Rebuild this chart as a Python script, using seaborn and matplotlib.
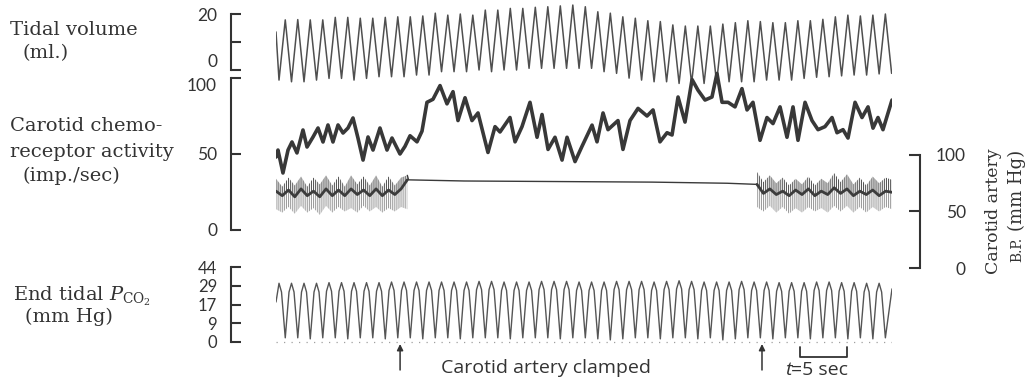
import numpy as np
import matplotlib
matplotlib.use("Agg")
import matplotlib.pyplot as plt
import matplotlib.transforms as mtransforms
import seaborn as sns

# ---------------- recorded values ----------------
BREATH = 1.33          # s per respiratory cycle
FIRST_TROUGH = 0.32    # s, first inspiratory trough of the tidal trace
T_END = 65.53          # s, end of record

# Tidal volume (ml): starting value, then alternating trough / peak per breath
tidal_start = 13.6
tidal_troughs = [-3.6, -4.2, -4.2, -3.6, -3.0, -3.0, -3.6, -3.0, -2.4, -2.4,
                 -2.4, -1.8, -1.8, -0.6, -0.6, -0.6, 0.0, -0.6, 0.0, 0.0,
                 0.6, 0.6, 0.6, 0.6, 0.6, 0.6, -0.6, -1.2, -2.9, -3.6,
                 -4.2, -4.2, -4.8, -4.8, -4.8, -4.5, -4.2, -4.2, -4.2, -3.6,
                 -3.6, -3.6, -3.0, -2.6, -2.4, -2.1, -1.8, -1.8, -1.4, -1.2]
tidal_peaks = [17.9, 18.0, 17.9, 17.9, 18.8, 18.8, 18.5, 18.5, 18.8, 19.0,
               19.0, 19.3, 20.3, 19.6, 20.0, 19.6, 21.4, 21.4, 22.0, 22.0,
               22.4, 22.6, 22.9, 23.2, 22.6, 20.8, 20.3, 19.0, 18.5, 17.6,
               17.3, 16.1, 15.7, 15.7, 15.7, 16.4, 16.9, 17.6, 17.3, 16.9,
               16.9, 17.6, 17.6, 18.1, 19.0, 19.6, 19.3, 19.6, 20.0]

# Carotid chemoreceptor discharge (imp./sec)
chemo_t = [0.00, 0.21, 0.74, 1.28, 1.70, 2.23, 2.87, 3.30, 3.94, 4.47,
           5.00, 5.53, 6.06, 6.60, 7.13, 7.66, 8.19, 8.72, 9.26, 9.79,
           10.32, 11.06, 11.81, 12.34, 13.19, 13.72, 14.26, 15.00, 15.53, 16.06,
           16.70, 17.45, 18.19, 18.83, 19.36, 20.11, 20.85, 21.49, 22.55, 23.30,
           23.83, 24.89, 25.43, 26.17, 27.02, 27.77, 28.30, 28.94, 29.68, 30.43,
           30.96, 31.81, 32.55, 33.62, 34.15, 34.79, 35.32, 36.38, 36.91, 37.66,
           38.51, 39.47, 40.11, 40.85, 41.60, 42.13, 42.77, 43.51, 44.26, 44.89,
           45.64, 46.38, 46.91, 47.45, 48.09, 48.83, 49.57, 50.11, 50.74, 51.49,
           52.23, 52.87, 53.62, 54.36, 55.00, 55.53, 56.28, 57.02, 57.66, 58.40,
           59.15, 59.68, 60.32, 60.85, 61.60, 62.34, 62.98, 63.51, 64.04, 64.57,
           65.11, 65.53]
chemo_rate = [48, 52.6, 37.5, 52.6, 57.9, 50.7, 65.8, 54.6, 61.2, 67.1,
              57.9, 69.1, 57.9, 69.1, 63.8, 67.1, 73.7, 60.5, 46, 61.2,
              52.6, 67.1, 52.6, 60.5, 50, 55, 62, 58, 65, 84,
              86, 95, 83, 91, 72, 87, 72, 77, 51, 68,
              64.5, 74, 58, 68, 84, 61, 76, 53, 61, 46,
              61, 45, 55, 69, 58, 77, 66, 72, 53, 72,
              80, 75, 79, 58, 64, 62.5, 87.5, 71, 99, 92,
              85.5, 87.5, 103, 84, 84, 81, 93, 79, 84, 59,
              74, 70, 81, 61, 81, 59, 84, 72, 66, 68,
              74, 64, 66, 60.5, 84, 74, 81, 67, 74, 66,
              77, 85.5]

# Carotid artery blood pressure (mm Hg): pulsatile before / after the clamp
bp_before = (0.0, 13.97)
bp_after = (51.17, 65.53)
sys_before = [79, 72, 80, 73, 81, 72, 80, 74, 82, 73, 81, 72, 82, 74, 81, 73, 82, 72, 81, 73, 80, 82]
dia_before = [52, 49, 54, 48, 55, 49, 53, 47, 55, 49, 54, 50, 53, 49, 55, 50, 54, 49, 53, 50, 54, 52]
mean_before = [68, 64, 69, 63, 70, 64, 68, 63, 70, 64, 69, 64, 70, 65, 69, 64, 70, 64, 69, 65, 70, 78]
sys_after = [85, 76, 82, 75, 80, 73, 79, 74, 81, 73, 79, 75, 84, 76, 83, 74, 80, 73, 81, 75, 80, 78]
dia_after = [54, 50, 55, 49, 54, 48, 53, 49, 54, 50, 53, 49, 55, 50, 55, 49, 54, 49, 54, 50, 54, 52]
mean_after = [74, 66, 70, 65, 68, 64, 69, 65, 70, 64, 68, 65, 71, 66, 70, 64, 68, 65, 69, 64, 68, 67]
clamp_t = [13.97, 14.10, 20.0, 30.0, 40.0, 48.0, 51.17]
clamp_bp = [82, 78, 77, 76.5, 76, 75, 74]

# End-tidal CO2 (mm Hg): per breath the end-tidal peak, the level on the
# shoulders either side of it, and the inspired trough
pco2_start = 18.6
pco2_end = 27.0
pco2_peaks = [31, 31, 31, 31, 31.5, 31.5, 31.5, 31.5, 31.5, 32,
              32, 32, 32, 32, 32, 32, 32.5, 32.5, 32, 32,
              32, 32.5, 32.5, 32.5, 32, 32, 32, 32.5, 32.5, 32.5,
              32, 32.5, 33, 32.5, 32, 32, 32, 32.5, 32, 32,
              31.5, 31.5, 31.5, 32, 32, 31.5, 31.5, 31, 31]
pco2_shoulders = [25, 25, 25, 25, 25.5, 25.5, 25.5, 25.5, 25.5, 26,
                  26, 26, 26, 26, 26, 26, 26.5, 26.5, 26, 26,
                  26, 26.5, 26.5, 26.5, 26, 26, 26, 26.5, 26.5, 26.5,
                  26, 26.5, 27, 26.5, 26, 26, 26, 26.5, 26, 26,
                  25.5, 25.5, 25.5, 26, 26, 25.5, 25.5, 25, 25]
pco2_troughs = [2, 2, 1.5, 2, 2, 1.5, 2, 2, 1.5, 2,
                2, 1.5, 2, 2, 1.5, 2, 2, 2, 1.5, 2,
                2, 2, 1.5, 2, 2, 1.5, 1, 1.5, 2, 2,
                1.5, 2, 2, 1.5, 2, 1, 1.5, 2, 2, 1.5,
                2, 2, 1.5, 2, 2, 1.5, 2, 1.5, 2]
pco2_cal = [0, 9, 17, 29, 44]

clamp_marks = [13.2, 51.7]       # s, clamp applied / released
scale_start, scale_len = 55.7, 5  # time calibration bar (s)

# ---------------- style ----------------
sns.set_theme(style="white")
plt.rcParams["font.family"] = ["Lato", "DejaVu Sans"]
plt.rcParams["mathtext.fontset"] = "dejavuserif"
plt.rcParams["hatch.linewidth"] = 0.75

INK = "#333333"
TRACE = "#4f4f4f"
SERIF = "DejaVu Serif"
SANS = "Open Sans"
W, H = 1034, 381
fig = plt.figure(figsize=(W / 100, H / 100), dpi=100)
fig.patch.set_facecolor("white")


def fy(ypx):
    return 1 - ypx / H


def px_axes(x0, y_top, x1, y_bot):
    ax = fig.add_axes([x0 / W, fy(y_bot), (x1 - x0) / W, (y_bot - y_top) / H])
    ax.set_facecolor("none")
    for s in ax.spines.values():
        s.set_visible(False)
    ax.set_xlim(0, T_END)
    ax.set_xticks([])
    ax.set_xlabel("")
    ax.set_ylabel("")
    return ax


def left_scale(ax, lo, hi, ticks, labels, size=12.5):
    sp = ax.spines["left"]
    sp.set_visible(True)
    sp.set_position(("outward", 45 * 0.72))
    sp.set_bounds(lo, hi)
    sp.set_color(INK)
    sp.set_linewidth(1.5)
    ax.set_yticks(ticks)
    ax.set_yticklabels(labels)
    ax.tick_params(axis="y", left=True, direction="in", length=7.5, width=1.5,
                   pad=10, labelsize=size, colors=INK)


# ---- tidal volume ----
ax_tv = px_axes(276, 0, 892, 90)
tv_t, tv_v = [0.0], [tidal_start]
for i, tr in enumerate(tidal_troughs):
    tv_t.append(FIRST_TROUGH + i * BREATH)
    tv_v.append(tr)
    if i < len(tidal_peaks):
        tv_t.append(FIRST_TROUGH + (i + 0.5) * BREATH)
        tv_v.append(tidal_peaks[i])
sns.lineplot(x=tv_t, y=tv_v, ax=ax_tv, color=TRACE, linewidth=1.1, estimator=None)
ax_tv.set_ylim(-7.14, 25)
left_scale(ax_tv, 0, 20, [0, 10, 20], ["0", "", "20"])
ax_tv.get_yticklabels()[0].set_verticalalignment("bottom")

# ---- chemoreceptor activity ----
ax_ch = px_axes(276, 60, 892, 240)
sns.lineplot(x=chemo_t, y=chemo_rate, ax=ax_ch, color="#383838", linewidth=2.6,
             estimator=None)
ax_ch.set_ylim(-6.58, 111.84)
left_scale(ax_ch, 0, 100, [0, 50, 100], ["0", "50", "100"])
ax_ch.get_yticklabels()[2].set_verticalalignment("top")

# ---- carotid blood pressure ----
ax_bp = px_axes(276, 150, 892, 275)
for (t0, t1), sy, di, mn in [(bp_before, sys_before, dia_before, mean_before),
                             (bp_after, sys_after, dia_after, mean_after)]:
    tt = np.linspace(t0, t1, len(sy))
    ax_bp.fill_between(tt, mn, sy, facecolor="none", edgecolor="#555555",
                       hatch="||||||||", linewidth=0)
    ax_bp.fill_between(tt, di, mn, facecolor="none", edgecolor="#9c9c9c",
                       hatch="||||||||", linewidth=0)
    sns.lineplot(x=tt, y=mn, ax=ax_bp, color="#3c3c3c", linewidth=2.0, estimator=None)
sns.lineplot(x=clamp_t, y=clamp_bp, ax=ax_bp, color="#3a3a3a", linewidth=1.0,
             estimator=None)
ax_bp.set_ylim(-6.19, 104.42)
sp = ax_bp.spines["right"]
sp.set_visible(True)
sp.set_position(("outward", 28 * 0.72))
sp.set_bounds(0, 100)
sp.set_color(INK)
sp.set_linewidth(1.5)
ax_bp.yaxis.tick_right()
ax_bp.set_yticks([0, 50, 100])
ax_bp.set_yticklabels(["0", "50", "100"])
ax_bp.tick_params(axis="y", left=False, right=True, labelleft=False, labelright=True,
                  direction="in", length=11 * 0.72, width=1.5, pad=46 * 0.72,
                  labelsize=12.5, colors=INK)
for lab in ax_bp.get_yticklabels():
    lab.set_horizontalalignment("right")

# ---- end tidal CO2 (calibration scale is not linear) ----
lev = np.arange(len(pco2_cal), dtype=float)
cal = np.asarray(pco2_cal, dtype=float)


def to_level(v):
    v = np.asarray(v, dtype=float)
    return np.where(v < cal[0], v / (cal[1] - cal[0]),
                    np.where(v > cal[-1], lev[-1] + (v - cal[-1]) / (cal[-1] - cal[-2]),
                             np.interp(v, cal, lev)))


def from_level(u):
    u = np.asarray(u, dtype=float)
    return np.where(u < 0, u * (cal[1] - cal[0]),
                    np.where(u > lev[-1], cal[-1] + (u - lev[-1]) * (cal[-1] - cal[-2]),
                             np.interp(u, lev, cal)))


ax_co = px_axes(276, 262, 892, 350)
ax_co.set_yscale("function", functions=(to_level, from_level))
co_t, co_v = [0.0], [pco2_start]
for i, pk in enumerate(pco2_peaks):
    t_pk = FIRST_TROUGH + i * BREATH
    if i > 0:
        co_t.append(t_pk - 0.2 * BREATH)
        co_v.append(pco2_shoulders[i])
    co_t += [t_pk, t_pk + 0.2 * BREATH, t_pk + 0.5 * BREATH]
    co_v += [pk, pco2_shoulders[i], pco2_troughs[i]]
co_t.append(T_END)
co_v.append(pco2_end)
ax_co.axhline(0, color="#a0a0a0", linewidth=0.9, linestyle=(0, (1, 5)))
sns.lineplot(x=co_t, y=co_v, ax=ax_co, color="#555555", linewidth=1.0, estimator=None)
ax_co.set_ylim(-3.84, 48.0)
left_scale(ax_co, 0, 44, pco2_cal, [str(c) for c in pco2_cal], size=12)
ax_co.yaxis.set_minor_locator(matplotlib.ticker.NullLocator())

# ---- annotations under the record ----
tb = mtransforms.blended_transform_factory(ax_co.transData, fig.transFigure)
for tm in clamp_marks:
    ax_co.annotate("", xy=(tm, fy(344)), xycoords=tb, xytext=(tm, fy(370)),
                   textcoords=tb,
                   arrowprops=dict(arrowstyle="-|>", color=INK, lw=1.1,
                                   mutation_scale=9, shrinkA=0, shrinkB=0))
ax_co.text(17.5, fy(368), "Carotid artery clamped", transform=tb, ha="left",
           va="center", fontsize=14, color=INK, family=SANS)
ax_co.plot([scale_start, scale_start, scale_start + scale_len, scale_start + scale_len],
           [fy(347), fy(357), fy(357), fy(347)], transform=tb, color=INK, lw=1.3,
           clip_on=False)
ax_co.text(scale_start - 0.9, fy(370), "t", transform=tb, ha="right", va="center",
           fontsize=14, color=INK, fontstyle="italic", family=SANS)
ax_co.text(scale_start - 0.9, fy(370), "=5 sec", transform=tb, ha="left",
           va="center", fontsize=14, color=INK, family=SANS)


# ---- trace names ----
def label(x, y, s, size=14):
    fig.text(x / W, fy(y), s, ha="left", va="center", fontsize=size,
             family=SERIF, color=INK)


label(10, 30, "Tidal volume")
label(22, 53, "(ml.)")
label(10, 126, "Carotid chemo-")
label(10, 152, "receptor activity")
label(22, 176, "(imp./sec)")
label(13, 296, r"End tidal $P_{\mathrm{CO_2}}$")
label(25, 317, "(mm Hg)")

# right-hand scale name, written upwards in two lines
fig.text(993 / W, fy(148), "Carotid artery", rotation=90, ha="center", va="top",
         fontsize=12.5, family=SERIF, color=INK)
units = fig.text(1017 / W, fy(150), "(mm Hg)", rotation=90, ha="center", va="top",
                 fontsize=13, family=SERIF, color=INK)
bb = units.get_window_extent(fig.canvas.get_renderer())
fig.text(1017 / W, (bb.y0 - 6) / H, "B.P.", rotation=90, ha="center", va="top",
         fontsize=10, family=SERIF, color=INK)

fig.savefig("out.png", dpi=100, facecolor="white")
